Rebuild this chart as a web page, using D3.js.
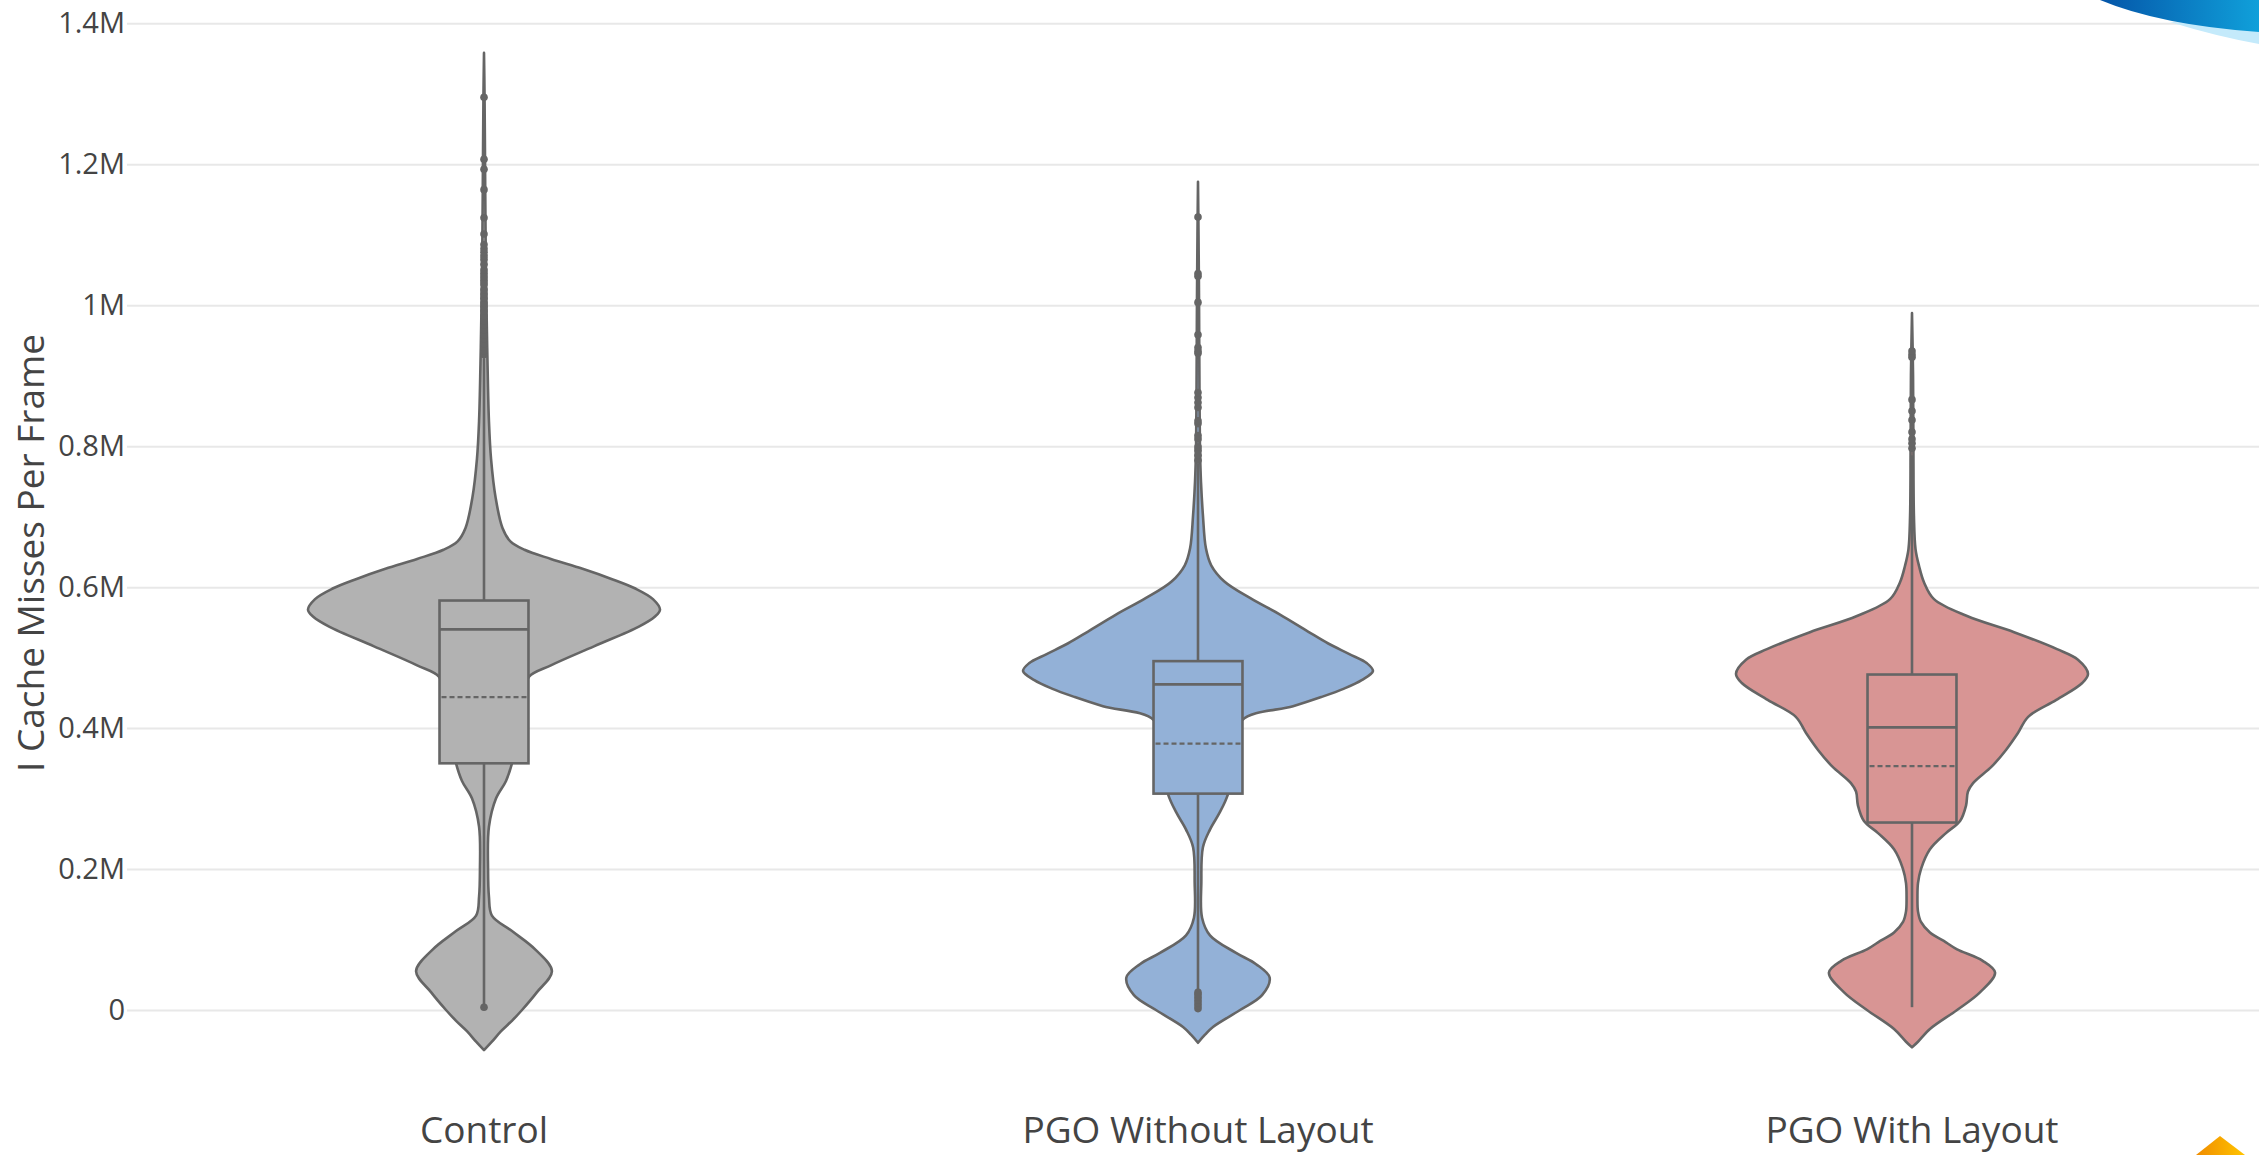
<!DOCTYPE html>
<html>
<head>
<meta charset="utf-8">
<script src="https://cdn.jsdelivr.net/npm/d3@7"></script>
<style>
  html, body { margin: 0; padding: 0; background: #fff; }
  svg { display: block; font-family: "Open Sans", verdana, arial, sans-serif; }
</style>
</head>
<body>
<div id="chart"></div>
<script>
// all values in millions of misses per frame
const categories = ["Control", "PGO Without Layout", "PGO With Layout"];
const yTicks = [0, 0.2, 0.4, 0.6, 0.8, 1, 1.2, 1.4];

const q1       = [0.350, 0.307, 0.266];
const medians  = [0.540, 0.462, 0.401];
const q3       = [0.581, 0.495, 0.476];
const means    = [0.444, 0.378, 0.346];
const whiskLo  = [0.004, 0.028, 0.004];
const whiskHi  = [0.925, 0.775, 0.787];

// violin outlines: [value, relative density]
const densityControl = [
  [-0.057, 0], [-0.045, 0.045], [-0.03, 0.097], [-0.015, 0.16], [0, 0.216],
  [0.025, 0.30], [0.055, 0.386], [0.085, 0.295], [0.112, 0.159], [0.134, 0.045],
  [0.161, 0.028], [0.2, 0.023], [0.26, 0.028], [0.3, 0.068], [0.325, 0.125],
  [0.35, 0.159], [0.40, 0.20], [0.45, 0.23], [0.473, 0.256], [0.489, 0.38],
  [0.516, 0.625], [0.544, 0.88], [0.558, 0.97], [0.568, 1], [0.583, 0.96],
  [0.598, 0.86], [0.612, 0.72], [0.626, 0.56], [0.64, 0.38], [0.653, 0.23],
  [0.665, 0.15], [0.684, 0.105], [0.727, 0.066], [0.782, 0.04],
  [0.836, 0.028], [0.917, 0.02], [1.0, 0.014], [1.1, 0.009], [1.2, 0.006],
  [1.3, 0.003], [1.358, 0]
];
const densityNoLayout = [
  [-0.0465, 0], [-0.035, 0.04], [-0.024, 0.085], [0, 0.239], [0.021, 0.364],
  [0.046, 0.407], [0.065, 0.33], [0.081, 0.216], [0.106, 0.068], [0.131, 0.023],
  [0.181, 0.019], [0.231, 0.028], [0.256, 0.068], [0.281, 0.125], [0.306, 0.17],
  [0.36, 0.216], [0.411, 0.25], [0.431, 0.54], [0.444, 0.70], [0.456, 0.83],
  [0.468, 0.93], [0.481, 0.994], [0.492, 0.96], [0.505, 0.86], [0.52, 0.74],
  [0.537, 0.625], [0.561, 0.466], [0.584, 0.30], [0.608, 0.15], [0.631, 0.075],
  [0.655, 0.045], [0.702, 0.028], [0.749, 0.017],
  [0.8, 0.011], [0.9, 0.008], [1.0, 0.006], [1.1, 0.003], [1.175, 0]
];
const densityLayout = [
  [-0.053, 0], [-0.045, 0.034], [-0.027, 0.102], [0, 0.256], [0.025, 0.386],
  [0.053, 0.472], [0.07, 0.40], [0.086, 0.256], [0.096, 0.193], [0.11, 0.102],
  [0.125, 0.051], [0.14, 0.034], [0.16, 0.031], [0.18, 0.034], [0.2, 0.051],
  [0.228, 0.102], [0.251, 0.193], [0.268, 0.273], [0.29, 0.307], [0.31, 0.318],
  [0.322, 0.347], [0.346, 0.455], [0.369, 0.534], [0.393, 0.602], [0.416, 0.66],
  [0.44, 0.82], [0.464, 0.967], [0.477, 1], [0.497, 0.943], [0.512, 0.824],
  [0.536, 0.58], [0.559, 0.313], [0.583, 0.125], [0.607, 0.068], [0.63, 0.04],
  [0.654, 0.02], [0.701, 0.011], [0.8, 0.008], [0.9, 0.006], [0.989, 0]
];

const outliersControl = [
  0.004, 0.930, 0.935, 0.940, 0.945, 0.952, 0.958, 0.965, 0.972, 0.978, 0.985,
  0.992, 0.998, 1.003, 1.010, 1.016, 1.022, 1.030, 1.035, 1.040, 1.045, 1.050,
  1.058, 1.065, 1.070, 1.075, 1.080, 1.086, 1.101, 1.124, 1.164, 1.193, 1.207, 1.295
];
const outliersNoLayout = [
  0.002, 0.006, 0.010, 0.014, 0.018, 0.022, 0.025,
  0.780, 0.787, 0.794, 0.799, 0.810, 0.815, 0.832, 0.836, 0.855, 0.862, 0.869,
  0.876, 0.932, 0.935, 0.940, 0.958, 1.004, 1.041, 1.045, 1.125
];
const outliersLayout = [0.797, 0.804, 0.810, 0.820, 0.837, 0.850, 0.866, 0.926, 0.930, 0.935];

const fills = ["#b2b2b2", "#93b1d7", "#d89594"];
const lineColor = "#656565";
const lineW = 2.6;

const densities = [densityControl, densityNoLayout, densityLayout];
const outliers  = [outliersControl, outliersNoLayout, outliersLayout];
const series = categories.map((name, i) => ({
  name, fill: fills[i], density: densities[i], outliers: outliers[i],
  q1: q1[i], median: medians[i], q3: q3[i], mean: means[i], lo: whiskLo[i], hi: whiskHi[i]
}));

const W = 2259, H = 1155;
const plot = { left: 127, right: 2269, top: 23.3, bottom: 1010 };

const svg = d3.select("#chart").append("svg")
  .attr("width", W).attr("height", H)
  .attr("viewBox", `0 0 ${W} ${H}`);

const x = d3.scaleBand().domain(categories).range([plot.left, plot.right]);
const y = d3.scaleLinear().domain([0, 1.4]).range([plot.bottom, plot.top]);
const halfViolin = d3.scaleLinear().domain([0, 1]).range([0, x.bandwidth() * 0.2465]);
const boxHalf = x.bandwidth() * 0.0623;

// grid + y labels
const yAxis = svg.append("g")
  .attr("transform", `translate(${plot.left},0)`)
  .call(d3.axisLeft(y)
    .tickValues(yTicks)
    .tickSize(-(plot.right - plot.left))
    .tickPadding(2)
    .tickFormat(d => d === 0 ? "0" : d3.format("~g")(d) + "M"));
yAxis.select(".domain").remove();
yAxis.selectAll(".tick line").attr("stroke", "#e8e8e8").attr("stroke-width", 2);
yAxis.selectAll(".tick text")
  .attr("fill", "#444").attr("font-size", 29)
  .attr("font-family", "'Open Sans', verdana, arial, sans-serif");

// y title
svg.append("text")
  .attr("transform", `translate(44 ${553}) rotate(-90)`)
  .attr("text-anchor", "middle")
  .attr("fill", "#444")
  .attr("font-size", 37)
  .text("I Cache Misses Per Frame");

// x labels
svg.append("g").selectAll("text")
  .data(categories)
  .join("text")
    .attr("x", d => x(d) + x.bandwidth() / 2)
    .attr("y", 1143)
    .attr("text-anchor", "middle")
    .attr("fill", "#444")
    .attr("font-size", 37)
    .text(d => d);

const area = d3.area()
  .curve(d3.curveCatmullRom.alpha(0.5))
  .y(d => y(d[0]));

const traces = svg.append("g").selectAll("g.trace")
  .data(series)
  .join("g")
    .attr("class", "trace")
    .attr("transform", d => `translate(${x(d.name) + x.bandwidth() / 2} 0)`);

traces.append("path")
  .attr("d", d => area.x0(p => -halfViolin(p[1])).x1(p => halfViolin(p[1]))(d.density))
  .attr("fill", d => d.fill)
  .attr("stroke", lineColor)
  .attr("stroke-width", lineW)
  .attr("stroke-linejoin", "round");

// whiskers
traces.append("line")
  .attr("x1", 0).attr("x2", 0)
  .attr("y1", d => y(d.q1)).attr("y2", d => y(d.lo))
  .attr("stroke", lineColor).attr("stroke-width", lineW);
traces.append("line")
  .attr("x1", 0).attr("x2", 0)
  .attr("y1", d => y(d.q3)).attr("y2", d => y(d.hi))
  .attr("stroke", lineColor).attr("stroke-width", lineW);

// box
traces.append("rect")
  .attr("x", -boxHalf)
  .attr("width", 2 * boxHalf)
  .attr("y", d => y(d.q3))
  .attr("height", d => y(d.q1) - y(d.q3))
  .attr("fill", d => d.fill)
  .attr("stroke", lineColor)
  .attr("stroke-width", lineW);
traces.append("line")
  .attr("x1", -boxHalf).attr("x2", boxHalf)
  .attr("y1", d => y(d.median)).attr("y2", d => y(d.median))
  .attr("stroke", lineColor).attr("stroke-width", lineW);
traces.append("line")
  .attr("x1", -boxHalf + 2).attr("x2", boxHalf - 2)
  .attr("y1", d => y(d.mean)).attr("y2", d => y(d.mean))
  .attr("stroke", lineColor).attr("stroke-width", 2.3)
  .attr("stroke-dasharray", "5,3");

// outlier points
traces.selectAll("circle")
  .data(d => d.outliers)
  .join("circle")
    .attr("cx", 0)
    .attr("cy", v => y(v))
    .attr("r", 3.8)
    .attr("fill", lineColor);

// slide decorations in the corners
const defs = svg.append("defs");
const gBlue = defs.append("linearGradient").attr("id", "swoosh").attr("x1", 0).attr("x2", 1);
gBlue.append("stop").attr("offset", 0).attr("stop-color", "#0455a8");
gBlue.append("stop").attr("offset", 1).attr("stop-color", "#10a0da");
const gGold = defs.append("linearGradient").attr("id", "gold").attr("x1", 0).attr("x2", 1);
gGold.append("stop").attr("offset", 0).attr("stop-color", "#f08c00");
gGold.append("stop").attr("offset", 1).attr("stop-color", "#ffc400");
svg.append("path")
  .attr("d", `M2170 22 Q2215 36 ${W} 44 L${W} 28 Q2200 22 2170 22 Z`)
  .attr("fill", "#c4eafb");
svg.append("path")
  .attr("d", `M2100 0 L${W} 0 L${W} 32 Q2160 25 2100 0 Z`)
  .attr("fill", "url(#swoosh)");
svg.append("path")
  .attr("d", `M2220 1136 L2245 ${H} L2196 ${H} Z`)
  .attr("fill", "url(#gold)");
</script>
</body>
</html>
